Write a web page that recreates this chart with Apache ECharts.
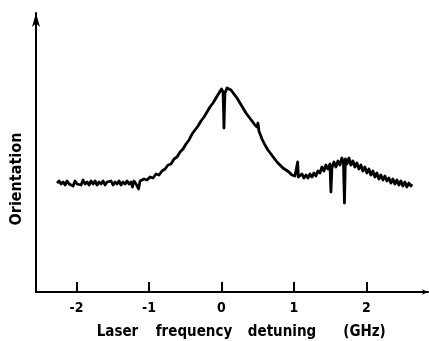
<!DOCTYPE html>
<html>
<head>
<meta charset="utf-8">
<script src="https://cdn.jsdelivr.net/npm/echarts@6/dist/echarts.min.js"></script>
<style>
  html, body { margin: 0; padding: 0; background: #fff; }
  #chart { width: 429px; height: 341px; }
</style>
</head>
<body>
<div id="chart"></div>
<script>
// Laser frequency detuning (GHz) for each recorded sample
const detuning = [
  -2.269, -2.241, -2.214, -2.186, -2.159, -2.131, -2.103, -2.076, -2.048, -2.021,
  -1.993, -1.966, -1.938, -1.910, -1.883, -1.855, -1.828, -1.800, -1.772, -1.745,
  -1.717, -1.690, -1.662, -1.634, -1.607, -1.579, -1.552, -1.524, -1.497, -1.469,
  -1.441, -1.414, -1.386, -1.359, -1.331, -1.303, -1.276, -1.248, -1.228, -1.207,
  -1.179, -1.159, -1.145, -1.124, -1.097,
  -1.069, -1.028, -0.986, -0.945, -0.903, -0.862, -0.821, -0.779, -0.738,
  -0.697, -0.655, -0.614, -0.572, -0.531, -0.490, -0.448, -0.407, -0.366, -0.324,
  -0.283, -0.241, -0.200, -0.159, -0.117, -0.076, -0.034, 0.000, 0.021, 0.029,
  0.034, 0.040, 0.048, 0.076, 0.103, 0.131, 0.172, 0.214, 0.255, 0.297,
  0.338, 0.379, 0.421, 0.462, 0.490, 0.503, 0.517, 0.559, 0.600, 0.641,
  0.683, 0.724, 0.766, 0.807, 0.848, 0.890, 0.931, 0.972, 1.014, 1.041,
  1.051, 1.061,
  1.083, 1.110, 1.138, 1.166, 1.193, 1.221, 1.248, 1.276, 1.303, 1.331,
  1.359, 1.386, 1.414, 1.441, 1.469, 1.497, 1.510, 1.524, 1.552, 1.579,
  1.607, 1.634, 1.662, 1.683, 1.697, 1.710, 1.731, 1.759, 1.786, 1.814,
  1.841, 1.869, 1.897, 1.924, 1.952, 1.979, 2.007, 2.034, 2.062, 2.090,
  2.117, 2.145, 2.172, 2.200, 2.228, 2.255, 2.283, 2.310, 2.338, 2.366,
  2.393, 2.421, 2.448, 2.476, 2.503, 2.531, 2.559, 2.586, 2.614, 2.628
];

// Orientation signal (arbitrary units) at each detuning
const orientation = [
  1.09, 1.11, 1.08, 1.10, 1.07, 1.11, 1.08, 1.10, 1.06, 1.11,
  1.08, 1.10, 1.07, 1.12, 1.08, 1.10, 1.07, 1.11, 1.08, 1.11,
  1.07, 1.10, 1.08, 1.11, 1.07, 1.10, 1.08, 1.11, 1.07, 1.10,
  1.08, 1.11, 1.07, 1.10, 1.08, 1.11, 1.08, 1.10, 1.05, 1.11,
  1.08, 1.10, 1.03, 1.11, 1.12,
  1.13, 1.12, 1.15, 1.14, 1.18, 1.17, 1.21, 1.23, 1.27,
  1.28, 1.33, 1.35, 1.40, 1.43, 1.48, 1.52, 1.58, 1.62, 1.66,
  1.71, 1.75, 1.80, 1.85, 1.89, 1.94, 1.99, 2.03, 2.00, 1.82,
  1.64, 1.82, 1.99, 2.04, 2.04, 2.02, 1.98, 1.94, 1.89, 1.84,
  1.79, 1.75, 1.71, 1.67, 1.65, 1.69, 1.61, 1.53, 1.47, 1.42,
  1.38, 1.34, 1.30, 1.27, 1.24, 1.22, 1.20, 1.17, 1.16, 1.15,
  1.30, 1.15,
  1.15, 1.18, 1.14, 1.17, 1.14, 1.18, 1.15, 1.19, 1.16, 1.21,
  1.19, 1.25, 1.21, 1.27, 1.23, 1.28, 1.00, 1.24, 1.30, 1.25,
  1.31, 1.27, 1.34, 1.29, 0.89, 1.33, 1.28, 1.34, 1.27, 1.31,
  1.25, 1.29, 1.23, 1.27, 1.21, 1.25, 1.19, 1.23, 1.17, 1.21,
  1.15, 1.19, 1.13, 1.17, 1.12, 1.16, 1.11, 1.14, 1.09, 1.13,
  1.08, 1.12, 1.07, 1.11, 1.06, 1.10, 1.05, 1.09, 1.06, 1.08
];

// Labelled detuning ticks
const tickValues = [-2, -1, 0, 1, 2];
const tickLabels = ['-2', '-1', '0', '1', '2'];

// Axis titles (the x title is set word by word with wide gaps)
const xTitleWords = ['Laser', 'frequency', 'detuning', '(GHz)'];
const yTitle = 'Orientation';

const points = detuning.map((d, i) => [d, orientation[i]]);

const font = '"DejaVu Sans Condensed", "DejaVu Sans", sans-serif';
const ink = '#000';

// Horizontal centres of the x-title words
const xWordCentres = [117.5, 194, 282, 364.5];

const chart = echarts.init(document.getElementById('chart'), null, { renderer: 'canvas' });

chart.setOption({
  animation: false,
  backgroundColor: '#fff',
  grid: { left: 36, right: 1, top: 13, bottom: 49, containLabel: false },
  xAxis: {
    type: 'value',
    min: -2.56,
    max: 2.85,
    splitLine: { show: false },
    axisLine: {
      show: true,
      onZero: false,
      symbol: ['none', 'arrow'],
      symbolSize: [4, 6],
      lineStyle: { color: ink, width: 2 }
    },
    axisTick: {
      show: true,
      inside: true,
      length: 10,
      customValues: tickValues,
      lineStyle: { color: ink, width: 2 }
    },
    axisLabel: {
      show: true,
      customValues: tickValues,
      margin: 9,
      formatter: v => tickLabels[tickValues.indexOf(Math.round(v))],
      color: ink,
      fontFamily: font,
      fontWeight: 'bold',
      fontSize: 14
    }
  },
  yAxis: {
    type: 'value',
    min: 0,
    max: 2.79,
    splitLine: { show: false },
    axisLine: {
      show: true,
      onZero: false,
      symbol: ['none', 'arrow'],
      symbolSize: [6, 14],
      lineStyle: { color: ink, width: 2 }
    },
    axisTick: { show: false },
    axisLabel: { show: false }
  },
  graphic: xTitleWords.map((w, i) => ({
    type: 'text',
    x: xWordCentres[i],
    y: 332,
    style: {
      text: w,
      fill: ink,
      font: 'bold 15px ' + font,
      align: 'center',
      verticalAlign: 'middle'
    }
  })).concat([
    {
      type: 'text',
      x: 17,
      y: 179,
      rotation: Math.PI / 2,
      style: {
        text: yTitle,
        fill: ink,
        font: 'bold 16px ' + font,
        align: 'center',
        verticalAlign: 'middle'
      }
    }
  ]),
  series: [
    {
      type: 'line',
      data: points,
      showSymbol: false,
      smooth: false,
      lineStyle: { color: ink, width: 2.8, join: 'round' }
    }
  ]
});
</script>
</body>
</html>
